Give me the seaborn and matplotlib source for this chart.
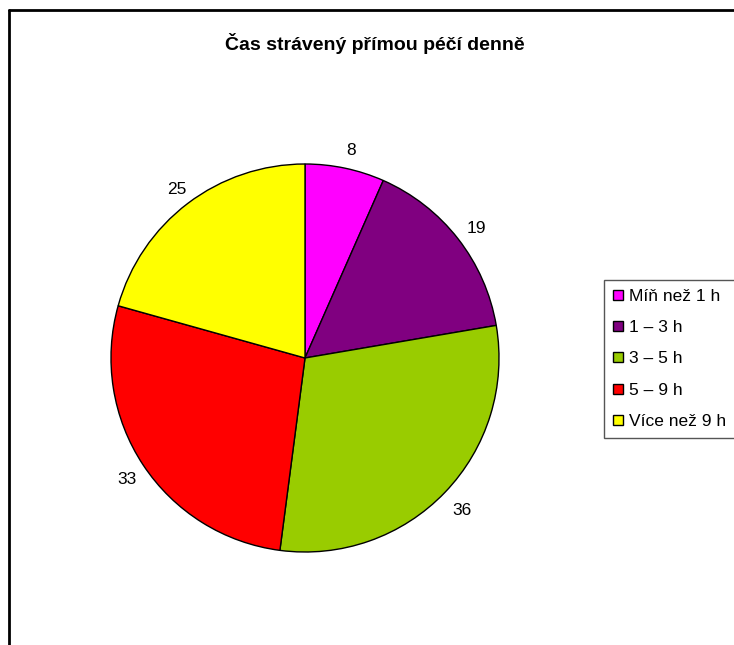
import matplotlib
matplotlib.use("Agg")
import matplotlib.pyplot as plt
import seaborn as sns
from matplotlib.lines import Line2D

categories = ["Míň než 1 h", "1 – 3 h", "3 – 5 h", "5 – 9 h", "Více než 9 h"]
values = [8, 19, 36, 33, 25]
colors = ["#FF00FF", "#800080", "#99CC00", "#FF0000", "#FFFF00"]
title = "Čas strávený přímou péčí denně"

sns.set_theme(style="white")
plt.rcParams['font.family'] = ['Liberation Sans', 'DejaVu Sans']
plt.rcParams['text.color'] = 'black'

W, H = 734, 645
fig = plt.figure(figsize=(W/100, H/100), dpi=100)
fig.patch.set_facecolor("white")

cx, cy, r = 305, 358, 194
ax = fig.add_axes([(cx - r)/W, (H - cy - r)/H, 2*r/W, 2*r/H])
pal = sns.color_palette(colors)
wedges, texts = ax.pie(values, colors=pal, startangle=90, counterclock=False,
                       labels=[str(v) for v in values], labeldistance=1.11,
                       wedgeprops=dict(edgecolor="black", linewidth=1.0),
                       textprops=dict(fontsize=12.5, color="black"))
for t in texts:
    t.set_clip_on(False)
    t.set_ha("center"); t.set_va("center")
    x, y = t.get_position()
    t.set_position((x + 2/r, y - 3/r))
ax.set_xlim(-1, 1); ax.set_ylim(-1, 1)
ax.set_aspect("equal")
ax.axis("off")

fig.text(375/W, 1 - 43/H, title, ha="center", va="center", fontsize=14,
         fontweight="bold", color="black")

# chart-area border (left and top visible)
fig.add_artist(Line2D([9/W, 9/W], [0, 1 - 10/H], transform=fig.transFigure, color="black", lw=2))
fig.add_artist(Line2D([9/W, 1], [1 - 10/H, 1 - 10/H], transform=fig.transFigure, color="black", lw=2))

handles = [Line2D([], [], marker="s", linestyle="none", markersize=7, markerfacecolor=c,
                  markeredgecolor="black", markeredgewidth=1.0) for c in pal]
leg = fig.legend(handles, categories, loc="upper left", bbox_to_anchor=(604/W, 1 - 280/H),
                 bbox_transform=fig.transFigure, fontsize=12.5, frameon=True, fancybox=False,
                 edgecolor="#555555", framealpha=1, handlelength=0.6, handletextpad=0.35,
                 labelspacing=0.93, borderpad=0.5, borderaxespad=0)
leg.get_frame().set_linewidth(1.0)

fig.savefig("out.png", dpi=100)
